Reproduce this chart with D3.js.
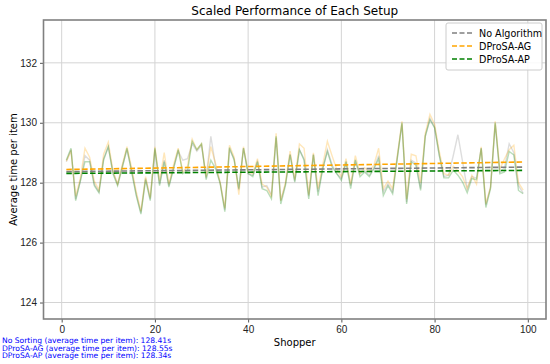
<!DOCTYPE html>
<html>
<head>
<meta charset="utf-8">
<script src="https://cdn.jsdelivr.net/npm/d3@7"></script>
<style>
  body { margin: 0; background: #fff; }
  svg { font-family: "DejaVu Sans", sans-serif; }
</style>
</head>
<body>
<div id="chart"></div>
<script>
// shopper index of the first point, the rest follow one by one
var firstShopper = 1;

var noAlgorithm = [128.70,129.10,127.45,128.05,128.90,128.75,127.95,127.70,128.80,129.20,
  128.35,127.95,128.55,129.10,128.40,127.60,127.00,128.15,127.45,129.10,
  127.95,128.75,127.90,128.50,129.05,128.75,128.80,129.30,129.05,129.25,
  128.15,129.55,128.55,128.00,127.10,129.10,128.80,127.75,129.15,128.30,
  128.25,128.70,127.85,127.90,127.60,129.50,127.40,127.95,128.95,128.05,
  129.10,128.80,127.55,128.95,127.70,128.45,129.10,128.60,128.30,128.15,
  128.65,127.90,128.70,128.30,128.40,128.25,128.50,128.90,127.70,127.95,
  127.70,128.85,129.95,127.35,128.75,128.65,127.80,129.55,130.15,129.85,
  128.90,128.20,128.25,128.90,129.60,128.70,127.80,128.20,128.15,129.15,
  127.25,127.85,129.95,128.35,128.50,129.30,129.00,127.90,127.65];

var dprosaAG = [128.72,129.05,127.55,128.15,129.15,128.85,128.05,127.75,128.95,129.35,
  128.40,127.95,128.60,129.20,128.50,127.70,127.05,128.20,127.50,129.20,
  128.05,129.00,127.95,128.60,129.15,128.35,128.55,129.45,129.10,129.30,
  128.20,129.20,128.65,128.00,127.15,129.25,128.85,127.60,129.20,128.35,
  128.30,128.80,127.95,127.85,127.55,129.65,127.40,128.00,129.05,128.10,
  129.29,129.15,127.60,129.00,127.80,128.60,129.38,128.90,128.45,128.20,
  128.80,127.95,128.90,128.30,128.50,128.35,128.60,129.15,127.80,128.05,
  127.80,128.90,130.05,127.45,128.95,128.90,128.00,129.65,130.28,129.95,
  129.05,128.30,128.25,128.55,128.40,128.20,127.80,128.25,127.95,129.20,
  127.30,127.85,130.05,128.45,128.80,129.10,129.25,128.00,127.75];

var dprosaAP = [128.76,129.15,127.40,128.05,128.70,128.70,127.90,127.66,128.76,129.20,
  128.30,127.90,128.50,129.15,128.36,127.57,126.95,128.10,127.40,129.15,
  127.90,128.70,127.85,128.47,129.10,128.30,128.40,129.38,129.10,129.30,
  128.10,128.75,128.47,127.97,127.03,129.17,128.75,127.80,129.15,128.30,
  128.20,128.70,127.80,127.74,127.46,129.55,127.29,127.90,128.93,128.02,
  129.10,128.75,127.46,128.93,127.57,128.47,129.04,128.53,128.30,128.08,
  128.70,127.80,128.76,128.20,128.36,128.20,128.47,128.80,127.57,127.90,
  127.63,128.80,130.00,127.29,128.70,128.58,127.74,129.55,130.10,129.83,
  128.93,128.16,128.16,128.42,128.25,128.02,127.66,128.14,128.10,129.15,
  127.17,127.80,130.00,128.30,128.36,129.04,128.93,127.74,127.63];

// fitted trend lines, value at first and last shopper
var trendNoAlgorithm = [128.37, 128.52];
var trendAG = [128.44, 128.69];
var trendAP = [128.31, 128.41];

var seriesNames = ["No Algorithm", "DProSA-AG", "DProSA-AP"];
var seriesColors = ["#808080", "#ffa500", "#008000"];
var xTicks = [0, 20, 40, 60, 80, 100];
var yTicks = [124, 126, 128, 130, 132];
var footNotes = ["No Sorting (average time per item): 128.41s",
                 "DProSA-AG (average time per item): 128.55s",
                 "DProSA-AP (average time per item): 128.34s"];

var W = 550, H = 364;
var margin = {top: 20, right: 4, bottom: 45, left: 43.5};
var width = W - margin.left - margin.right;
var height = H - margin.top - margin.bottom;

var svg = d3.select("#chart").append("svg")
    .attr("width", W).attr("height", H);

var g = svg.append("g")
    .attr("transform", "translate(" + margin.left + "," + margin.top + ")");

var x = d3.scaleLinear().domain([-3.9, 103.9]).range([0, width]);
var y = d3.scaleLinear().domain([123.45, 133.43]).range([height, 0]);

// grid
g.append("g").selectAll("line").data(xTicks).enter().append("line")
    .attr("x1", function(d){ return x(d); }).attr("x2", function(d){ return x(d); })
    .attr("y1", 0).attr("y2", height)
    .attr("stroke", "#d4d4d4").attr("stroke-width", 1);
g.append("g").selectAll("line").data(yTicks).enter().append("line")
    .attr("y1", function(d){ return y(d); }).attr("y2", function(d){ return y(d); })
    .attr("x1", 0).attr("x2", width)
    .attr("stroke", "#d4d4d4").attr("stroke-width", 1);

// data lines
var allSeries = [noAlgorithm, dprosaAG, dprosaAP];
var line = d3.line()
    .x(function(d, i){ return x(firstShopper + i); })
    .y(function(d){ return y(d); });

allSeries.forEach(function(s, k){
    g.append("path")
        .datum(s)
        .attr("d", line)
        .attr("fill", "none")
        .attr("stroke", seriesColors[k])
        .attr("stroke-opacity", 0.27)
        .attr("stroke-width", 1.4);
});

// trend lines
var trends = [trendNoAlgorithm, trendAG, trendAP];
var lastShopper = firstShopper + dprosaAP.length - 1;
trends.forEach(function(t, k){
    g.append("line")
        .attr("x1", x(firstShopper)).attr("x2", x(lastShopper))
        .attr("y1", y(t[0])).attr("y2", y(t[1]))
        .attr("stroke", seriesColors[k])
        .attr("stroke-width", 1.6)
        .attr("stroke-dasharray", "5.5,2.4");
});

// axes
var xAxis = d3.axisBottom(x).tickValues(xTicks).tickSize(3.5).tickPadding(3);
var yAxis = d3.axisLeft(y).tickValues(yTicks).tickSize(3.5).tickPadding(3);

var gx = g.append("g").attr("transform", "translate(0," + height + ")").call(xAxis);
var gy = g.append("g").call(yAxis);
[gx, gy].forEach(function(a){
    a.select(".domain").remove();
    a.selectAll("line").attr("stroke", "#555");
    a.selectAll("text").attr("fill", "#222").style("font-size", "10px");
});

// frame
g.append("rect")
    .attr("width", width).attr("height", height)
    .attr("fill", "none")
    .attr("stroke", "#808080")
    .attr("stroke-width", 1.6);

// titles
svg.append("text")
    .attr("x", margin.left + width / 2).attr("y", 15)
    .attr("text-anchor", "middle")
    .style("font-size", "12px")
    .text("Scaled Performance of Each Setup");

svg.append("text")
    .attr("x", margin.left + width / 2).attr("y", 346)
    .attr("text-anchor", "middle")
    .style("font-size", "10px")
    .text("Shopper");

svg.append("text")
    .attr("transform", "rotate(-90)")
    .attr("x", -(margin.top + height / 2)).attr("y", 17)
    .attr("text-anchor", "middle")
    .style("font-size", "10px")
    .text("Average time per item");

// legend
var legend = svg.append("g").attr("transform", "translate(446,23)");
legend.append("rect")
    .attr("width", 96).attr("height", 47)
    .attr("rx", 2)
    .attr("fill", "#fff").attr("fill-opacity", 0.85)
    .attr("stroke", "#ccc");
seriesNames.forEach(function(name, k){
    var ly = 10 + k * 13;
    legend.append("line")
        .attr("x1", 6).attr("x2", 27).attr("y1", ly).attr("y2", ly)
        .attr("stroke", seriesColors[k]).attr("stroke-width", 1.6)
        .attr("stroke-dasharray", "5,2.5");
    legend.append("text")
        .attr("x", 33).attr("y", ly + 3.5)
        .style("font-size", "9.6px")
        .text(name);
});

// footnotes
svg.append("g").selectAll("text").data(footNotes).enter().append("text")
    .attr("x", 2).attr("y", function(d, i){ return 343 + i * 7.6; })
    .attr("fill", "blue")
    .style("font-size", "7.6px")
    .text(function(d){ return d; });
</script>
</body>
</html>
